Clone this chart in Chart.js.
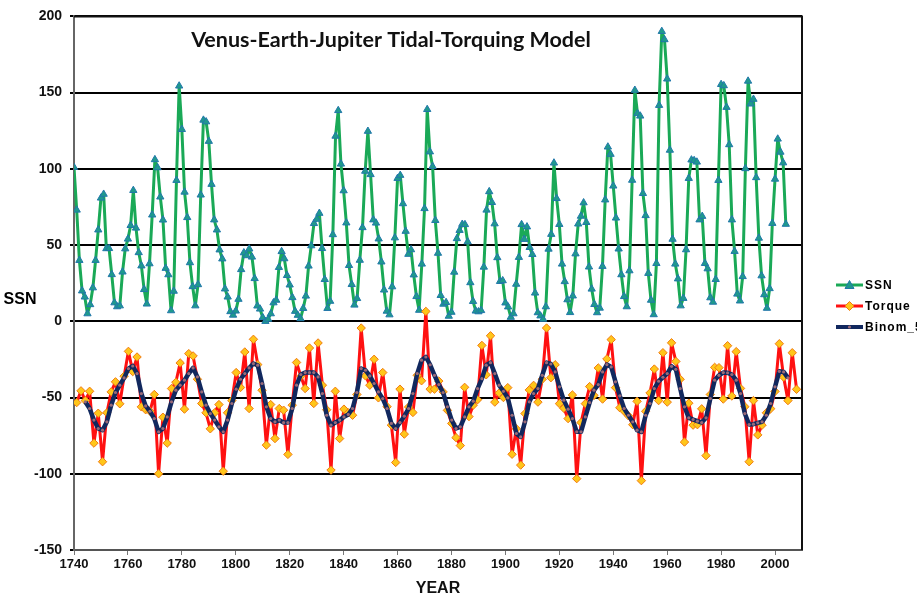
<!DOCTYPE html>
<html>
<head>
<meta charset="utf-8">
<script src="https://cdn.jsdelivr.net/npm/chart.js@4.4.0/dist/chart.umd.min.js"></script>
<style>
  html, body { margin: 0; padding: 0; background: #fff; }
  #wrap { position: relative; width: 917px; height: 598px; }
</style>
</head>
<body>
<div id="wrap"><canvas id="vejChart" width="917" height="598"></canvas></div>
<script>
// yearly sunspot numbers as plotted (first point sits on the 1740 edge)
const ssnFirstYear = 1740;
const ssnValues = [
  101.0, 73.0, 40.0, 20.0, 16.0, 5.0, 11.0, 22.0, 40.0, 60.0,
  80.9, 83.4, 47.7, 47.8, 30.7, 12.2, 9.6, 10.2, 32.4, 47.6,
  54.0, 62.9, 85.9, 61.2, 45.1, 36.4, 20.9, 11.4, 37.8, 69.8,
  106.1, 100.8, 81.6, 66.5, 34.8, 30.6, 7.0, 19.8, 92.5, 154.4,
  125.9, 84.8, 68.1, 38.5, 22.8, 10.2, 24.1, 82.9, 132.0, 130.9,
  118.1, 89.9, 66.6, 60.0, 46.9, 41.0, 21.3, 16.0, 6.4, 4.1,
  6.8, 14.5, 34.0, 45.0, 43.1, 47.5, 42.2, 28.1, 10.1, 8.1,
  2.5, 0.0, 1.4, 5.0, 12.2, 13.9, 35.4, 45.8, 41.1, 30.1,
  23.9, 15.6, 6.6, 4.0, 1.8, 8.5, 16.6, 36.3, 49.6, 64.2,
  67.0, 70.9, 47.8, 27.5, 8.5, 13.2, 56.9, 121.5, 138.3, 103.2,
  85.7, 64.6, 36.7, 24.2, 10.7, 15.0, 40.1, 61.5, 98.5, 124.7,
  96.3, 66.6, 64.5, 54.1, 39.0, 20.6, 6.7, 4.3, 22.7, 54.8,
  93.8, 95.8, 77.2, 59.1, 44.0, 47.0, 30.5, 16.3, 7.3, 37.6,
  74.0, 139.0, 111.2, 101.6, 66.2, 44.7, 17.0, 11.3, 12.4, 3.4,
  6.0, 32.3, 54.3, 59.7, 63.7, 63.5, 52.2, 25.4, 13.1, 6.8,
  6.3, 7.1, 35.6, 73.0, 85.1, 78.0, 64.0, 41.8, 26.2, 26.7,
  12.1, 9.5, 2.7, 5.0, 24.4, 42.0, 63.5, 53.8, 62.0, 48.5,
  43.9, 18.6, 5.7, 3.6, 1.4, 9.6, 47.4, 57.1, 103.9, 80.6,
  63.6, 37.6, 26.1, 14.2, 5.8, 16.7, 44.3, 63.9, 69.0, 77.8,
  64.9, 35.7, 21.2, 11.1, 5.7, 8.7, 36.1, 79.7, 114.4, 109.6,
  88.8, 67.8, 47.5, 30.6, 16.3, 9.6, 33.2, 92.6, 151.6, 136.3,
  134.7, 83.9, 69.4, 31.5, 13.9, 4.4, 38.0, 141.7, 190.2, 184.8,
  159.0, 112.3, 53.9, 37.6, 27.9, 10.2, 15.1, 47.0, 93.8, 105.9,
  105.5, 104.5, 66.6, 68.9, 38.0, 34.5, 15.5, 12.6, 27.5, 92.5,
  155.4, 154.6, 140.4, 115.9, 66.6, 45.9, 17.9, 13.4, 29.4, 100.2,
  157.6, 142.6, 145.7, 94.3, 54.6, 29.9, 17.5, 8.6, 21.5, 64.3,
  93.3, 119.6, 111.0, 104.0, 63.7
];

// torque samples, one per Venus-Earth synodic step
const torqueFirstYear = 1741.0;
const torqueStep = 1.5987;
const torqueValues = [
  -53.3, -45.6, -52, -45.9, -79.9, -60.3, -92.1, -60, -46.3, -39.7,
  -54.1, -36, -19.7, -33, -23.4, -56.1, -58, -59, -48, -100,
  -62.9, -79.9, -44.1, -40, -27.3, -57.6, -21.2, -22.7, -38, -53.9,
  -60, -70.5, -60, -54.6, -98.3, -60, -52, -33.6, -43.4, -20.1,
  -57.2, -11.8, -28.4, -45.2, -81.2, -54.6, -76.9, -57.2, -58.3, -87.3,
  -55, -27, -36, -44.1, -17.5, -53.9, -14.2, -41.9, -58, -97.6,
  -45.9, -76.9, -57.6, -60, -61.6, -48, -4.4, -35.8, -41.9, -24.9,
  -50.2, -33.6, -56, -68.1, -92.6, -44.5, -74, -56.2, -59.8, -35.4,
  -39, 6.5, -44.5, -44.5, -39.2, -46.3, -58.4, -67, -76.3, -81.5,
  -43.3, -62.5, -55, -51.4, -15.8, -35.1, -9.5, -53, -47, -50,
  -43.5, -87.2, -70.5, -94.3, -60.5, -45, -42, -53, -38, -4.4,
  -37, -28.5, -54, -57, -63.8, -48.3, -103.2, -66.4, -54, -42.8,
  -48.6, -30.6, -51, -24.7, -12, -43.5, -56.7, -59, -62, -67.8,
  -52.5, -104.5, -59, -47, -31.3, -52, -20.6, -53, -14.1, -26.3,
  -38, -79.2, -53.7, -68.1, -67.8, -57.4, -88.1, -48, -30.2, -30.4,
  -51, -16, -49, -19.9, -44, -56, -92.1, -52, -74.5, -68.1,
  -60, -57.3, -46, -14.7, -36.6, -52, -20.6, -44.6
];

// smoothed curve, starts at the third torque sample
const binomOffset = 2;
const binomValues = [
  -52.8, -57.2, -64.8, -70.3, -71.4, -65.9, -55, -46.7, -41.9, -37.1,
  -31, -29.3, -34.3, -47.4, -55.5, -59, -63.8, -72.5, -70.3, -62.7,
  -52.8, -45.2, -41.9, -38.6, -34.3, -30.6, -36.5, -46.3, -55, -60.5,
  -64.8, -69.2, -72.5, -64.8, -53.9, -44.5, -38, -34.3, -30.6, -27.7,
  -28.8, -40.8, -56.1, -63.8, -65.9, -64.8, -66.4, -66.4, -57.2, -41.9,
  -34.9, -33.6, -33.6, -33.6, -36.5, -47.4, -61.6, -68.1, -66.4, -64.8,
  -62.7, -61.1, -57.2, -46.7, -31, -32.1, -35.8, -40.8, -46.3, -50.7,
  -57.2, -67, -70.3, -66.4, -62.2, -57.2, -47.4, -34.3, -25.5, -23.4,
  -28.5, -35.4, -41.5, -46.7, -56.1, -64.8, -70.3, -69.2, -62.7, -56.1,
  -52.4, -44.1, -37.6, -28.8, -27.1, -34.3, -41.9, -45.9, -50.2, -61.6,
  -73.6, -75.8, -65.9, -52.8, -47.4, -44.1, -35.4, -27.1, -28, -33.2,
  -43, -51.7, -57.6, -63.8, -72.5, -72.5, -62.7, -53.3, -45.2, -41.5,
  -33.2, -28.4, -29.9, -39.7, -48.9, -57.2, -61.6, -65.9, -71.4, -72.5,
  -61.6, -53.9, -44.1, -39.3, -36.7, -34.3, -29.5, -31.5, -44.1, -56.1,
  -63.3, -64.4, -65.5, -66.4, -63.3, -50.7, -38.6, -35.4, -33.6, -33.8,
  -34.9, -38.6, -47.4, -60.5, -67.7, -67.5, -66.6, -65.9, -61.6, -53.9,
  -43, -32.8, -33.2, -37.1
];

const xTicks = [1740, 1760, 1780, 1800, 1820, 1840, 1860, 1880, 1900, 1920, 1940, 1960, 1980, 2000];
const yTicks = [-150, -100, -50, 0, 50, 100, 150, 200];
const seriesNames = ["SSN", "Torque", "Binom_5"];

const ssnPoints = ssnValues.map((v, i) => ({ x: ssnFirstYear + i, y: v }));
const torquePoints = torqueValues.map((v, i) => ({ x: torqueFirstYear + i * torqueStep, y: v }));
const binomPoints = binomValues.map((v, i) => ({ x: torqueFirstYear + (i + binomOffset) * torqueStep, y: v }));

const COLORS = {
  ssnLine: "#1aa957",
  ssnMark: "#1e9a8c",
  ssnMarkEdge: "#2277aa",
  torqueLine: "#ff1111",
  torqueMark: "#ffc61a",
  torqueMarkEdge: "#f07a10",
  binomLine: "#11285e",
  binomMark: "#9a6a78"
};

function drawMarker(ctx, style, x, y) {
  ctx.save();
  if (style === "triangle") {
    ctx.fillStyle = COLORS.ssnMark;
    ctx.strokeStyle = COLORS.ssnMarkEdge;
    ctx.lineWidth = 1;
    ctx.beginPath();
    ctx.moveTo(x, y - 4.5);
    ctx.lineTo(x + 4.5, y + 3.5);
    ctx.lineTo(x - 4.5, y + 3.5);
    ctx.closePath();
    ctx.fill();
    ctx.stroke();
  } else if (style === "diamond") {
    ctx.fillStyle = COLORS.torqueMark;
    ctx.strokeStyle = COLORS.torqueMarkEdge;
    ctx.lineWidth = 1;
    ctx.beginPath();
    ctx.moveTo(x, y - 4.5);
    ctx.lineTo(x + 4.5, y);
    ctx.lineTo(x, y + 4.5);
    ctx.lineTo(x - 4.5, y);
    ctx.closePath();
    ctx.fill();
    ctx.stroke();
  } else {
    ctx.fillStyle = COLORS.binomMark;
    ctx.beginPath();
    ctx.arc(x, y, 1.6, 0, Math.PI * 2);
    ctx.fill();
  }
  ctx.restore();
}

const overlayPlugin = {
  id: "overlay",
  afterDraw(chart) {
    const ctx = chart.ctx;
    const area = chart.chartArea;
    ctx.save();

    // plot frame
    ctx.strokeStyle = "#111";
    ctx.lineWidth = 2;
    ctx.beginPath();
    ctx.moveTo(area.left, area.top);
    ctx.lineTo(area.right, area.top);
    ctx.lineTo(area.right, area.bottom);
    ctx.stroke();

    // title inside the plot
    ctx.fillStyle = "#111";
    ctx.font = "bold 21.5px Lato";
    ctx.textAlign = "center";
    ctx.textBaseline = "middle";
    ctx.fillText("Venus-Earth-Jupiter Tidal-Torquing Model", area.left + 317, 40);

    // horizontal y-axis title
    ctx.font = "bold 16px 'Liberation Sans'";
    ctx.fillStyle = "#000";
    ctx.fillText("SSN", 20, 300);

    // legend
    const styles = ["triangle", "diamond", "dot"];
    const lineColors = [COLORS.ssnLine, COLORS.torqueLine, COLORS.binomLine];
    const lineWidths = [3, 3, 4];
    const rows = [285, 306, 327];
    ctx.font = "bold 12px 'Liberation Sans'";
    ctx.textAlign = "left";
    ctx.letterSpacing = "1px";
    seriesNames.forEach(function (name, i) {
      const y = rows[i];
      ctx.strokeStyle = lineColors[i];
      ctx.lineWidth = lineWidths[i];
      ctx.beginPath();
      ctx.moveTo(836, y);
      ctx.lineTo(863, y);
      ctx.stroke();
      drawMarker(ctx, styles[i], 849.5, y);
      ctx.fillStyle = "#000";
      ctx.fillText(name, 865, y + 1);
    });
    ctx.restore();
  }
};

const ctx = document.getElementById("vejChart");

new Chart(ctx, {
  type: "line",
  data: {
    datasets: [
      {
        label: seriesNames[0],
        data: ssnPoints,
        borderColor: COLORS.ssnLine,
        borderWidth: 3,
        borderJoinStyle: "round",
        pointStyle: "triangle",
        pointRadius: 4.2,
        pointBackgroundColor: COLORS.ssnMark,
        pointBorderColor: COLORS.ssnMarkEdge,
        pointBorderWidth: 1,
        tension: 0,
        order: 2
      },
      {
        label: seriesNames[1],
        data: torquePoints,
        borderColor: COLORS.torqueLine,
        borderWidth: 3,
        borderJoinStyle: "round",
        pointStyle: "rectRot",
        pointRadius: 4.2,
        pointBackgroundColor: COLORS.torqueMark,
        pointBorderColor: COLORS.torqueMarkEdge,
        pointBorderWidth: 1,
        tension: 0,
        order: 1
      },
      {
        label: seriesNames[2],
        data: binomPoints,
        borderColor: COLORS.binomLine,
        borderWidth: 4.5,
        borderJoinStyle: "round",
        pointStyle: "circle",
        pointRadius: 1.6,
        pointBackgroundColor: COLORS.binomMark,
        pointBorderWidth: 0,
        tension: 0,
        order: 0
      }
    ]
  },
  options: {
    responsive: false,
    animation: false,
    layout: {
      padding: { top: 14, right: 115, left: 0, bottom: 0 }
    },
    plugins: {
      legend: { display: false },
      tooltip: { enabled: false }
    },
    scales: {
      x: {
        type: "linear",
        min: 1740,
        max: 2010,
        afterBuildTicks: function (scale) {
          scale.ticks = xTicks.map(v => ({ value: v }));
        },
        afterFit: function (scale) {
          scale.height = 48;
        },
        grid: {
          drawOnChartArea: false,
          drawTicks: true,
          tickLength: 5,
          color: "#777"
        },
        border: { color: "#555", width: 2 },
        ticks: {
          color: "#111",
          font: { family: "'Liberation Sans'", size: 13, weight: "bold" },
          padding: 2,
          maxRotation: 0,
          callback: function (value) {
            return String(value);
          }
        },
        title: {
          display: true,
          text: "YEAR",
          color: "#111",
          font: { family: "'Liberation Sans'", size: 16, weight: "bold" },
          padding: { top: 0, bottom: 0 }
        }
      },
      y: {
        min: -150,
        max: 200,
        afterBuildTicks: function (scale) {
          scale.ticks = yTicks.map(v => ({ value: v }));
        },
        afterFit: function (scale) {
          scale.width = 74;
        },
        grid: {
          color: "#000",
          lineWidth: 2,
          drawTicks: true,
          tickLength: 4
        },
        border: { color: "#666", width: 2 },
        ticks: {
          color: "#111",
          font: { family: "'Liberation Sans'", size: 14, weight: "bold" },
          padding: 8
        }
      }
    }
  },
  plugins: [overlayPlugin]
});
</script>
</body>
</html>
